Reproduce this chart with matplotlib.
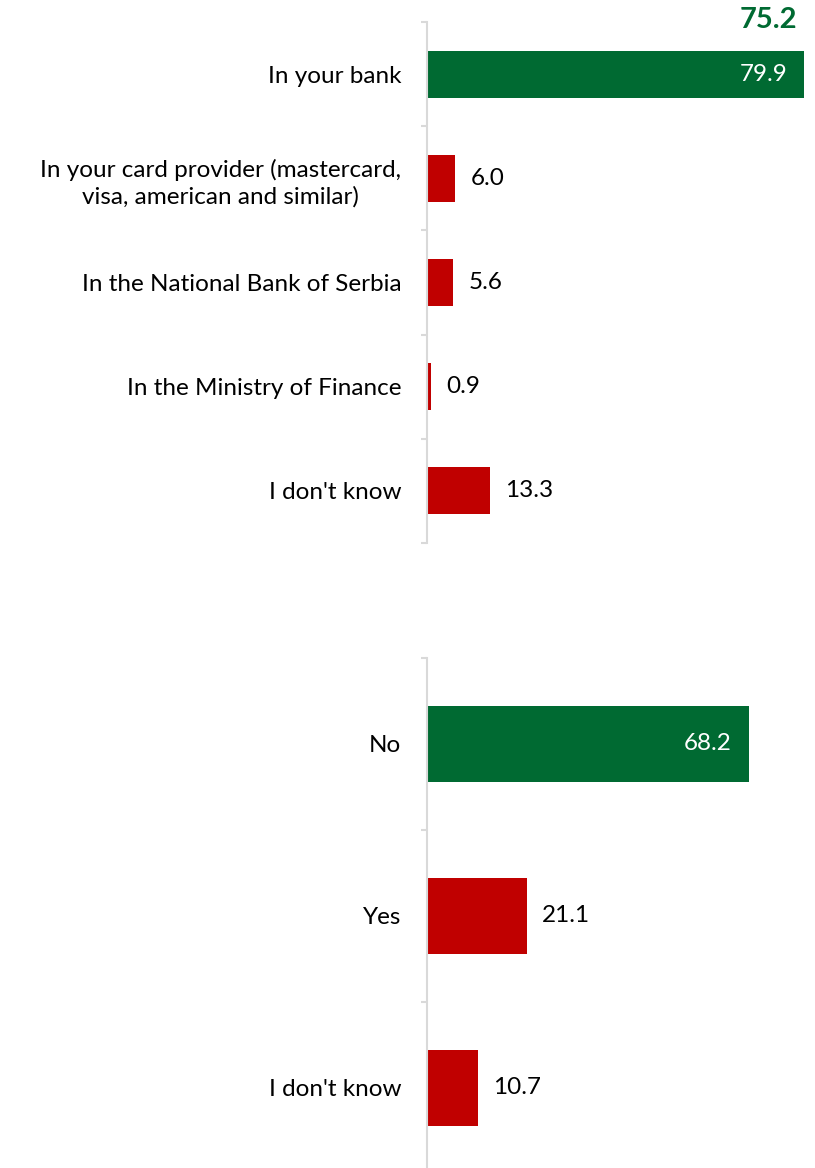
import matplotlib
matplotlib.use("Agg")
import matplotlib.pyplot as plt
import numpy as np

plt.rcParams['font.family'] = ['Lato', 'DejaVu Sans']

cats_top = ["In your bank",
            "In your card provider (mastercard,\nvisa, american and similar)",
            "In the National Bank of Serbia",
            "In the Ministry of Finance",
            "I don't know"]
vals_top = [79.9, 6.0, 5.6, 0.9, 13.3]

cats_bot = ["No", "Yes", "I don't know"]
vals_bot = [68.2, 21.1, 10.7]

headline = "75.2"

GREEN = "#006A32"
RED = "#C00000"
GRAY = "#D9D9D9"

W, H = 815, 1168
fig = plt.figure(figsize=(W / 100, H / 100), dpi=100)

x0 = 427
xmax = (W - x0) / 4.72
FS = 17.5


def make_ax(top_px, bot_px, cats, vals, ylim_bottom):
    ax = fig.add_axes([x0 / W, 1 - bot_px / H, (W - x0) / W, (bot_px - top_px) / H])
    n = len(cats)
    y = np.arange(n)
    colors = [GREEN] + [RED] * (n - 1)
    bw = 0.45 if n == 5 else 0.44
    ax.barh(y, vals, height=bw, color=colors)
    ax.set_xlim(0, xmax)
    ax.set_ylim(ylim_bottom, -0.5)
    for s in ["top", "right", "bottom"]:
        ax.spines[s].set_visible(False)
    ax.spines["left"].set_color(GRAY)
    ax.spines["left"].set_linewidth(1.5)
    ax.set_xticks([])
    ax.set_yticks(y)
    ax.set_yticklabels(cats, fontsize=FS, color="black", linespacing=1.3)
    for lab in ax.get_yticklabels():
        lab.set_multialignment("center")
    ax.tick_params(axis="y", which="major", length=0, pad=18.5)
    ax.set_yticks(np.arange(-0.5, ylim_bottom + 0.01, 1.0), minor=True)
    ax.tick_params(axis="y", which="minor", length=4, color=GRAY, width=1.5)
    for i, v in enumerate(vals):
        if i == 0:
            ax.text(v - 3.6, i, f"{v:.1f}", va="center", ha="right",
                    color="white", fontsize=FS)
        else:
            ax.text(v + 3.2, i, f"{v:.1f}", va="center", ha="left",
                    color="black", fontsize=FS)
    return ax


make_ax(22, 543, cats_top, vals_top, 4.5)
make_ax(658, 1168, cats_bot, vals_bot, 2.5 - 6 / 172)

fig.text(797 / W, 1 - 20 / H, headline, ha="right", va="center",
         color=GREEN, fontsize=21, fontweight="bold")

fig.savefig("out.png", dpi=100)
